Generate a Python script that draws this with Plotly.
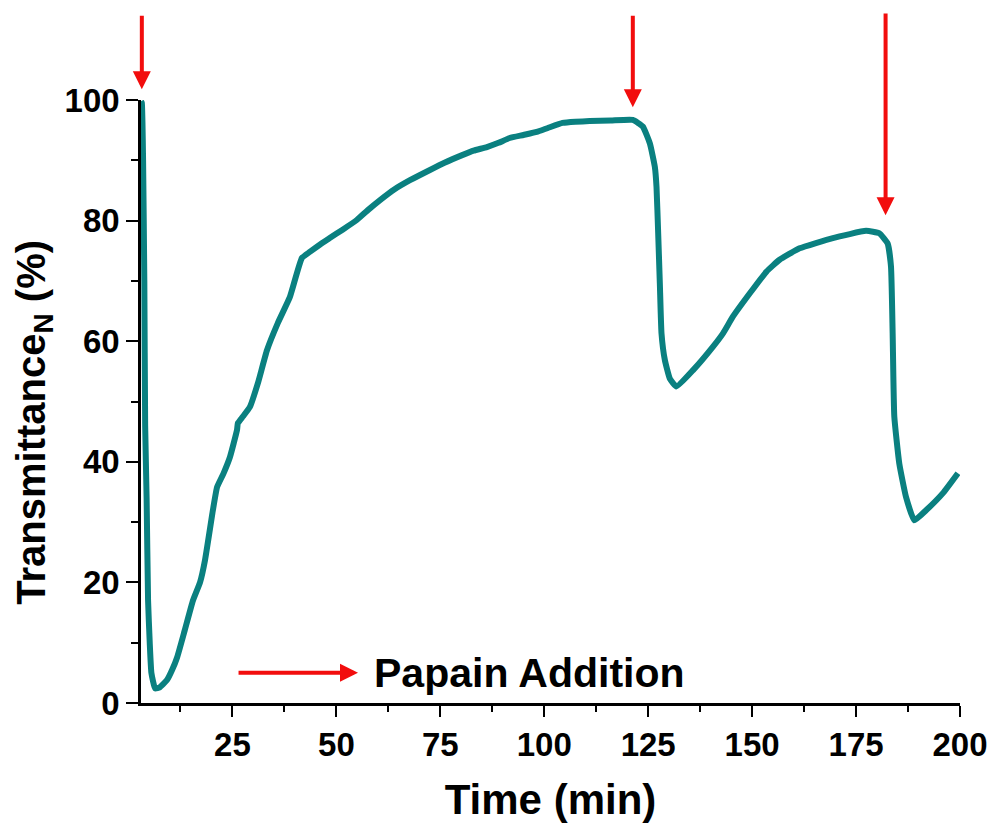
import plotly.graph_objects as go

# Time (min)
time_min = [3.0, 3.2, 3.5, 3.8, 4.0, 4.35, 4.7, 5.1, 5.5, 6.4, 7.5, 9.25, 10.5, 11.7, 13.5, 15.5,
            17.2, 18.4, 20.3, 21.3, 22.8, 24.4, 26.1, 26.3, 27.5, 29.2, 31.1, 33.3, 35.9, 38.8,
            41.7, 43.6, 46.0, 48.4, 51.5, 54.9, 57.5, 60.5, 64.0, 67.7, 72.5, 76.0, 80.4, 83.0,
            86.2, 89.0, 91.7, 95.0, 98.2, 101.0, 104.4, 107.5, 110.9, 116.0, 121.3, 123.7, 125.4,
            126.6, 127.0, 127.4, 127.8, 128.2, 129.0, 130.2, 131.8, 135.8, 140.6, 143.0, 145.4,
            149.4, 153.4, 156.6, 161.4, 169.4, 177.4, 180.6, 182.6, 183.4, 183.8, 184.2, 185.4,
            187.0, 189.0, 191.9, 195.9, 199.5]
# Normalised transmittance (%)
transmittance = [99.8, 99.5, 90.0, 70.0, 46.0, 34.0, 17.0, 10.0, 5.0, 2.4, 2.6, 3.8, 5.5, 7.6, 12.0, 17.0,
                 20.0, 23.7, 32.0, 35.8, 38.0, 40.8, 45.3, 46.4, 47.5, 49.1, 53.0, 58.5, 63.0, 67.3,
                 73.8, 74.8, 76.0, 77.1, 78.5, 80.1, 81.7, 83.4, 85.2, 86.7, 88.4, 89.6, 90.9, 91.6,
                 92.2, 92.9, 93.7, 94.2, 94.7, 95.4, 96.2, 96.4, 96.5, 96.6, 96.7, 95.6, 92.8,
                 88.9, 85.6, 77.9, 69.6, 61.3, 56.9, 53.8, 52.5, 55.2, 59.1, 61.3, 64.1,
                 67.9, 71.5, 73.5, 75.4, 77.1, 78.3, 77.9, 76.2, 72.4, 61.3, 47.5, 39.7,
                 34.2, 30.3, 32.0, 34.8, 38.1]

# Red arrow markers (papain additions): x, tip y, tail y  (in data units)
arrow_x = [3.2, 121.3, 182.1]
arrow_tip_y = [101.8, 98.8, 80.9]
arrow_tail_y = [114.2, 114.2, 114.6]

legend_arrow_x = [26.1, 55.2]
legend_arrow_y = 5.0
legend_text = "Papain Addition"
legend_text_x = 58.6

x_ticks = [25, 50, 75, 100, 125, 150, 175, 200]
x_minor = [12.5, 37.5, 62.5, 87.5, 112.5, 137.5, 162.5, 187.5]
y_ticks = [0, 20, 40, 60, 80, 100]
y_minor = [10, 30, 50, 70, 90]
x_range = [3, 200]
y_range = [0, 100]

FONT = "Liberation Sans"
RED = "#f20d0d"
TEAL = "#0a8080"


def y_dom(v):
    # position on the y axis expressed as a fraction of its domain (allows values above the range)
    return (v - y_range[0]) / (y_range[1] - y_range[0])


fig = go.Figure()
fig.add_trace(go.Scatter(
    x=time_min, y=transmittance, mode="lines",
    line=dict(color=TEAL, width=6, shape="spline", smoothing=0.4),
    showlegend=False, hoverinfo="skip"))

annotations = []
for xa, yt, ya in zip(arrow_x, arrow_tip_y, arrow_tail_y):
    annotations.append(dict(
        x=xa, y=y_dom(yt), ax=xa, ay=y_dom(ya),
        xref="x", yref="y domain", axref="x", ayref="y domain",
        text="", showarrow=True, arrowhead=2, arrowsize=0.9, arrowwidth=4,
        arrowcolor=RED, standoff=0, startstandoff=0))

annotations.append(dict(
    x=legend_arrow_x[1], y=legend_arrow_y, ax=legend_arrow_x[0], ay=legend_arrow_y,
    xref="x", yref="y", axref="x", ayref="y", text="", showarrow=True,
    arrowhead=2, arrowsize=0.9, arrowwidth=4, arrowcolor=RED, standoff=0))

annotations.append(dict(
    x=legend_text_x, y=legend_arrow_y, xref="x", yref="y", text=legend_text,
    showarrow=False, xanchor="left", yanchor="middle",
    font=dict(family=FONT, size=41, color="black", weight="bold")))

annotations.append(dict(
    x=-0.131, y=0.466, xref="paper", yref="paper",
    text="Transmittance<sub>N</sub> (%)", textangle=-90, showarrow=False,
    xanchor="center", yanchor="middle",
    font=dict(family=FONT, size=40, color="black", weight="bold")))

fig.update_layout(
    width=994, height=823,
    margin=dict(l=141, r=34, t=100, b=120),
    plot_bgcolor="white", paper_bgcolor="white",
    annotations=annotations,
    xaxis=dict(
        range=x_range, tickvals=x_ticks, ticktext=[str(v) for v in x_ticks],
        showgrid=False, zeroline=False, showline=True, linecolor="black", linewidth=2.5,
        ticks="outside", ticklen=11, tickwidth=2, tickcolor="black", automargin=False,
        minor=dict(tickvals=x_minor, ticks="outside", ticklen=6, tickwidth=2, tickcolor="black"),
        tickfont=dict(family=FONT, size=33, color="black", weight="bold"),
        title=dict(text="Time (min)", standoff=26,
                   font=dict(family=FONT, size=42, color="black", weight="bold")),
    ),
    yaxis=dict(
        range=y_range, tickvals=y_ticks, ticktext=[str(v) for v in y_ticks],
        showgrid=False, zeroline=False, showline=True, linecolor="black", linewidth=2.5,
        ticks="outside", ticklen=12, tickwidth=2, tickcolor="black", automargin=False,
        minor=dict(tickvals=y_minor, ticks="outside", ticklen=7, tickwidth=2, tickcolor="black"),
        tickfont=dict(family=FONT, size=33, color="black", weight="bold"),
    ),
)

fig.write_html(
    "out.html",
    config={"displayModeBar": False},
    post_script="document.body.style.margin='0';document.body.style.overflow='hidden';",
)
